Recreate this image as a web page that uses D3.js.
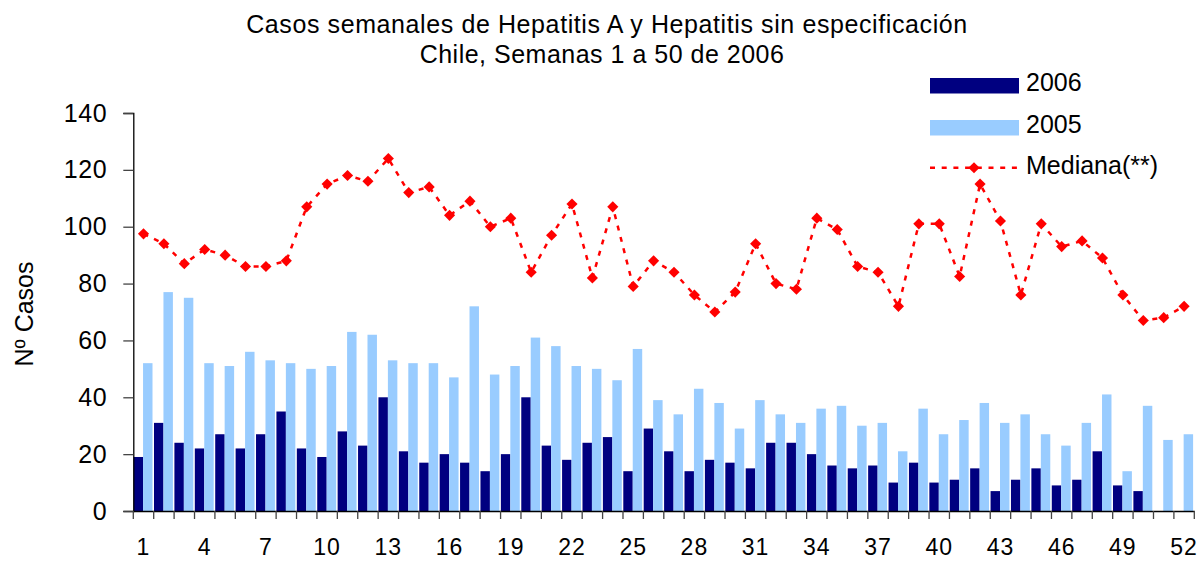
<!DOCTYPE html>
<html>
<head>
<meta charset="utf-8">
<script src="https://cdn.jsdelivr.net/npm/d3@7"></script>
<style>
  body { margin: 0; background: #fff; }
  text { font-family: "Liberation Sans", Arial, sans-serif; fill: #000; }
</style>
</head>
<body>
<div id="chart"></div>
<script>
var svgWidth = 1204;
var svgHeight = 561;

// weeks on the x axis
var weeks = d3.range(1, 53);
var tickWeeks = [1, 4, 7, 10, 13, 16, 19, 22, 25, 28, 31, 34, 37, 40, 43, 46, 49, 52];
var yTicks = [0, 20, 40, 60, 80, 100, 120, 140];

// weekly cases, 2006 only goes to week 50
var cases2006 = [19, 31, 24, 22, 27, 22, 27, 35, 22, 19,
  28, 23, 40, 21, 17, 20, 17, 14, 20, 40,
  23, 18, 24, 26, 14, 29, 21, 14, 18, 17,
  15, 24, 24, 20, 16, 15, 16, 10, 17, 10,
  11, 15, 7, 11, 15, 9, 11, 21, 9, 7];

var cases2005 = [52, 77, 75, 52, 51, 56, 53, 52, 50, 51,
  63, 62, 53, 52, 52, 47, 72, 48, 51, 61,
  58, 51, 50, 46, 57, 39, 34, 43, 38, 29,
  39, 34, 31, 36, 37, 30, 31, 21, 36, 27,
  32, 38, 31, 34, 27, 23, 31, 41, 14, 37,
  25, 27];

var median = [97.5, 94, 87, 92, 90, 86, 86, 88, 107, 115,
  118, 116, 124, 112, 114, 104, 109, 100, 103, 84,
  97, 108, 82, 107, 79, 88, 84, 76, 70, 77,
  94, 80, 78, 103, 99, 86, 84, 72, 101, 101,
  82.5, 115, 102, 76, 101, 93, 95, 89, 76, 67,
  68, 72];

var seriesNames = ["2006", "2005", "Mediana(**)"];
var darkBlue = "#000080";
var lightBlue = "#99CCFF";
var red = "#FF0000";

var plot = { left: 133.3, right: 1194.3, top: 113, bottom: 511 };

var svg = d3.select("#chart")
  .append("svg")
  .attr("width", svgWidth)
  .attr("height", svgHeight);

// scales
var xScale = d3.scaleBand()
  .domain(weeks)
  .range([plot.left, plot.right])
  .padding(0);

var xInner = d3.scaleBand()
  .domain(["2006", "2005"])
  .range([0.3, 19.2]);

var yScale = d3.scaleLinear()
  .domain([0, 140])
  .range([plot.bottom, plot.top]);

// bars 2006 and 2005
var rows = weeks.map(function(w, i) {
  return { week: w, c2006: cases2006[i], c2005: cases2005[i], med: median[i] };
});

svg.append("g").selectAll("rect")
  .data(rows.filter(d => d.c2006 !== undefined))
  .enter()
  .append("rect")
  .attr("x", d => xScale(d.week) + xInner("2006"))
  .attr("y", d => yScale(d.c2006))
  .attr("width", xInner.bandwidth())
  .attr("height", d => yScale(0) - yScale(d.c2006))
  .attr("fill", darkBlue);

svg.append("g").selectAll("rect")
  .data(rows)
  .enter()
  .append("rect")
  .attr("x", d => xScale(d.week) + xInner("2005"))
  .attr("y", d => yScale(d.c2005))
  .attr("width", xInner.bandwidth())
  .attr("height", d => yScale(0) - yScale(d.c2005))
  .attr("fill", lightBlue);

// median line, dashed with diamonds
var line = d3.line()
  .x(d => xScale(d.week) + xScale.bandwidth() / 2)
  .y(d => yScale(d.med));

svg.append("path")
  .datum(rows)
  .attr("d", line)
  .attr("fill", "none")
  .attr("stroke", red)
  .attr("stroke-width", 2.5)
  .attr("stroke-dasharray", "5,6.7");

var diamond = d3.symbol().type(d3.symbolSquare).size(62);

svg.append("g").selectAll("path")
  .data(rows)
  .enter()
  .append("path")
  .attr("d", diamond)
  .attr("transform", d => `translate(${xScale(d.week) + xScale.bandwidth() / 2},${yScale(d.med)}) rotate(45)`)
  .attr("fill", red);

// y axis
var leftAxis = d3.axisLeft(yScale)
  .tickValues(yTicks)
  .tickSize(10)
  .tickPadding(16);

var yAxis = svg.append("g")
  .attr("transform", `translate(${plot.left},0)`)
  .call(leftAxis);
yAxis.select(".domain").attr("stroke", "#000").attr("stroke-width", 1.3);
yAxis.selectAll(".tick line").attr("stroke", "#444").attr("stroke-width", 1.3);
yAxis.selectAll("text")
  .style("font-size", "25px")
  .style("letter-spacing", "0.6px")
  .style("font-family", "'Liberation Sans', Arial, sans-serif")
  .attr("fill", "#000");

// x axis: ticks on band edges, labels every third week
var bottomAxis = d3.axisBottom(xScale)
  .tickValues([])
  .tickSizeOuter(0);

var xAxis = svg.append("g")
  .attr("transform", `translate(0,${plot.bottom})`)
  .call(bottomAxis);
xAxis.select(".domain").attr("stroke", "#000").attr("stroke-width", 1.3);

xAxis.selectAll("line.edge")
  .data(weeks.concat([53]))
  .enter()
  .append("line")
  .attr("class", "edge")
  .attr("x1", d => d <= 52 ? xScale(d) : plot.right)
  .attr("x2", d => d <= 52 ? xScale(d) : plot.right)
  .attr("y1", 0)
  .attr("y2", 8)
  .attr("stroke", "#444")
  .attr("stroke-width", 1.3);

xAxis.selectAll("text.wk")
  .data(tickWeeks)
  .enter()
  .append("text")
  .attr("class", "wk")
  .attr("x", d => xScale(d) + xScale.bandwidth() / 2)
  .attr("y", 44)
  .attr("text-anchor", "middle")
  .style("font-size", "23px")
  .style("letter-spacing", "1px")
  .text(d => d);

// y axis title
svg.append("text")
  .attr("transform", "translate(33,314) rotate(-90)")
  .attr("text-anchor", "middle")
  .style("font-size", "25px")
  .text("Nº Casos");

// chart title
svg.append("text")
  .attr("x", 607)
  .attr("y", 33)
  .attr("text-anchor", "middle")
  .style("font-size", "25px")
  .style("letter-spacing", "0.6px")
  .text("Casos semanales de Hepatitis A y Hepatitis sin especificación");

svg.append("text")
  .attr("x", 602)
  .attr("y", 63)
  .attr("text-anchor", "middle")
  .style("font-size", "25px")
  .style("letter-spacing", "0.5px")
  .text("Chile, Semanas 1 a 50 de 2006");

// legend
var legend = svg.append("g");

legend.append("rect")
  .attr("x", 930).attr("y", 78)
  .attr("width", 89).attr("height", 15.5)
  .attr("fill", darkBlue);

legend.append("rect")
  .attr("x", 930).attr("y", 120)
  .attr("width", 89).attr("height", 15.5)
  .attr("fill", lightBlue);

legend.append("line")
  .attr("x1", 930).attr("x2", 1019)
  .attr("y1", 167.7).attr("y2", 167.7)
  .attr("stroke", red)
  .attr("stroke-width", 2.5)
  .attr("stroke-dasharray", "5,6.7");

legend.append("path")
  .attr("d", diamond)
  .attr("transform", "translate(974,167.7) rotate(45)")
  .attr("fill", red);

legend.selectAll("text")
  .data(seriesNames)
  .enter()
  .append("text")
  .attr("x", 1026)
  .attr("y", (d, i) => 91 + i * 41.5)
  .style("font-size", "25px")
  .text(d => d);
</script>
</body>
</html>
